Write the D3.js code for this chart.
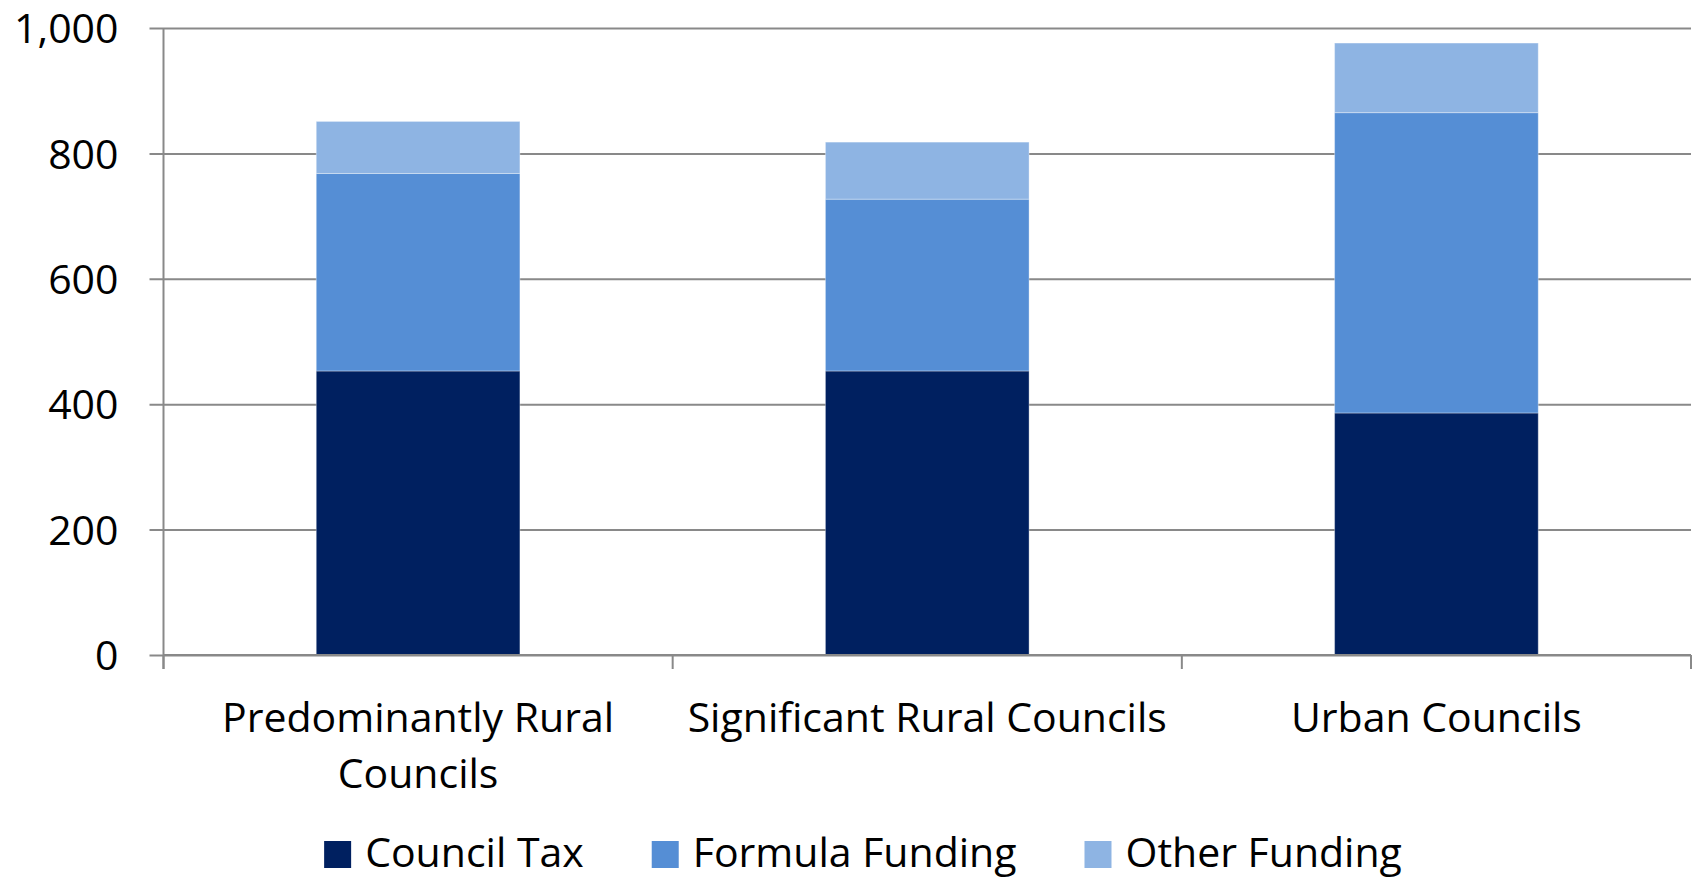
<!DOCTYPE html>
<html>
<head>
<meta charset="utf-8">
<script src="https://cdn.jsdelivr.net/npm/d3@7"></script>
<style>
  body { margin: 0; background: #fff; }
  text { font-family: "Open Sans", sans-serif; fill: #000; }
</style>
</head>
<body>
<svg id="chart" width="1700" height="879"></svg>
<script>
const categories = ['Predominantly Rural Councils', 'Significant Rural Councils', 'Urban Councils'];
const seriesNames = ['Council Tax', 'Formula Funding', 'Other Funding'];
const councilTax = [453, 453, 386];
const formulaFunding = [315, 274, 479];
const otherFunding = [83, 91, 111];
const yTicks = [0, 200, 400, 600, 800, 1000];
const colors = ['#002060', '#558ED5', '#8EB4E3'];

const svg = d3.select('#chart');
const margin = {left: 163.5, right: 9, top: 28, bottom: 224};
const width = 1700, height = 879;
const fontSize = 41;

const rows = categories.map((c, i) => ({
  category: c,
  'Council Tax': councilTax[i],
  'Formula Funding': formulaFunding[i],
  'Other Funding': otherFunding[i]
}));

const x = d3.scaleBand()
  .domain(categories)
  .range([margin.left, width - margin.right])
  .paddingInner(0.6)
  .paddingOuter(0.3);

const y = d3.scaleLinear()
  .domain([0, 1000])
  .range([height - margin.bottom, margin.top]);

const color = d3.scaleOrdinal(seriesNames, colors);

// gridlines + y axis
const yAxis = svg.append('g')
  .attr('transform', `translate(${margin.left},0)`)
  .call(d3.axisLeft(y)
    .tickValues(yTicks)
    .tickSize(14)
    .tickPadding(31)
    .tickFormat(d3.format(',')));
yAxis.select('.domain').remove();
yAxis.selectAll('.tick line')
  .attr('x2', width - margin.right - margin.left)
  .attr('x1', -14)
  .attr('stroke', '#898989')
  .attr('stroke-width', 2);
yAxis.selectAll('.tick text')
  .style('font-size', fontSize + 'px')
  .attr('dy', '0.36em');

svg.append('line')
  .attr('x1', margin.left).attr('x2', margin.left)
  .attr('y1', y(1000)).attr('y2', y(0) + 14)
  .attr('stroke', '#898989').attr('stroke-width', 2);

// stacked bars
const stacked = d3.stack().keys(seriesNames)(rows);

svg.append('g')
  .selectAll('g')
  .data(stacked)
  .enter()
  .append('g')
  .attr('fill', d => color(d.key))
  .selectAll('rect')
  .data(d => d)
  .enter()
  .append('rect')
  .attr('x', d => x(d.data.category))
  .attr('width', x.bandwidth())
  .attr('y', d => y(d[1]))
  .attr('height', d => y(d[0]) - y(d[1]))
  .attr('stroke', 'rgba(255,255,255,0.35)')
  .attr('stroke-width', 1);

// x axis line and category dividers
const step = x.step();
const bounds = d3.range(categories.length + 1).map(i => x.range()[0] + i * step);
svg.append('line')
  .attr('x1', margin.left).attr('x2', width - margin.right)
  .attr('y1', y(0)).attr('y2', y(0))
  .attr('stroke', '#898989').attr('stroke-width', 2);
svg.append('g')
  .selectAll('line')
  .data(bounds)
  .enter()
  .append('line')
  .attr('x1', d => d).attr('x2', d => d)
  .attr('y1', y(0)).attr('y2', y(0) + 14)
  .attr('stroke', '#898989').attr('stroke-width', 2);

// category labels with wrapping
const labels = svg.append('g')
  .selectAll('text')
  .data(categories)
  .enter()
  .append('text')
  .attr('x', d => x(d) + x.bandwidth() / 2)
  .attr('y', 732)
  .attr('text-anchor', 'middle')
  .style('font-size', fontSize + 'px');

labels.each(function(d) {
  const el = d3.select(this);
  const words = d.split(' ');
  let line = [];
  let tspan = el.append('tspan').attr('x', el.attr('x')).attr('dy', 0);
  words.forEach(w => {
    line.push(w);
    tspan.text(line.join(' '));
    if (tspan.node().getComputedTextLength() > step - 20 && line.length > 1) {
      line.pop();
      tspan.text(line.join(' '));
      line = [w];
      tspan = el.append('tspan').attr('x', el.attr('x')).attr('dy', 56).text(w);
    }
  });
});

// legend
const legend = svg.append('g');
const items = legend.selectAll('g')
  .data(seriesNames)
  .enter()
  .append('g');
items.append('rect')
  .attr('width', 27).attr('height', 27)
  .attr('y', 841)
  .attr('fill', d => color(d));
items.append('text')
  .attr('x', 41)
  .attr('y', 867)
  .style('font-size', fontSize + 'px')
  .text(d => d);

const widths = [];
items.each(function() {
  widths.push(d3.select(this).select('text').node().getComputedTextLength() + 41);
});
const gap = 68;
const total = d3.sum(widths) + gap * (widths.length - 1);
let offset = 863 - total / 2;
items.attr('transform', (d, i) => {
  const t = `translate(${offset},0)`;
  offset += widths[i] + gap;
  return t;
});
</script>
</body>
</html>
